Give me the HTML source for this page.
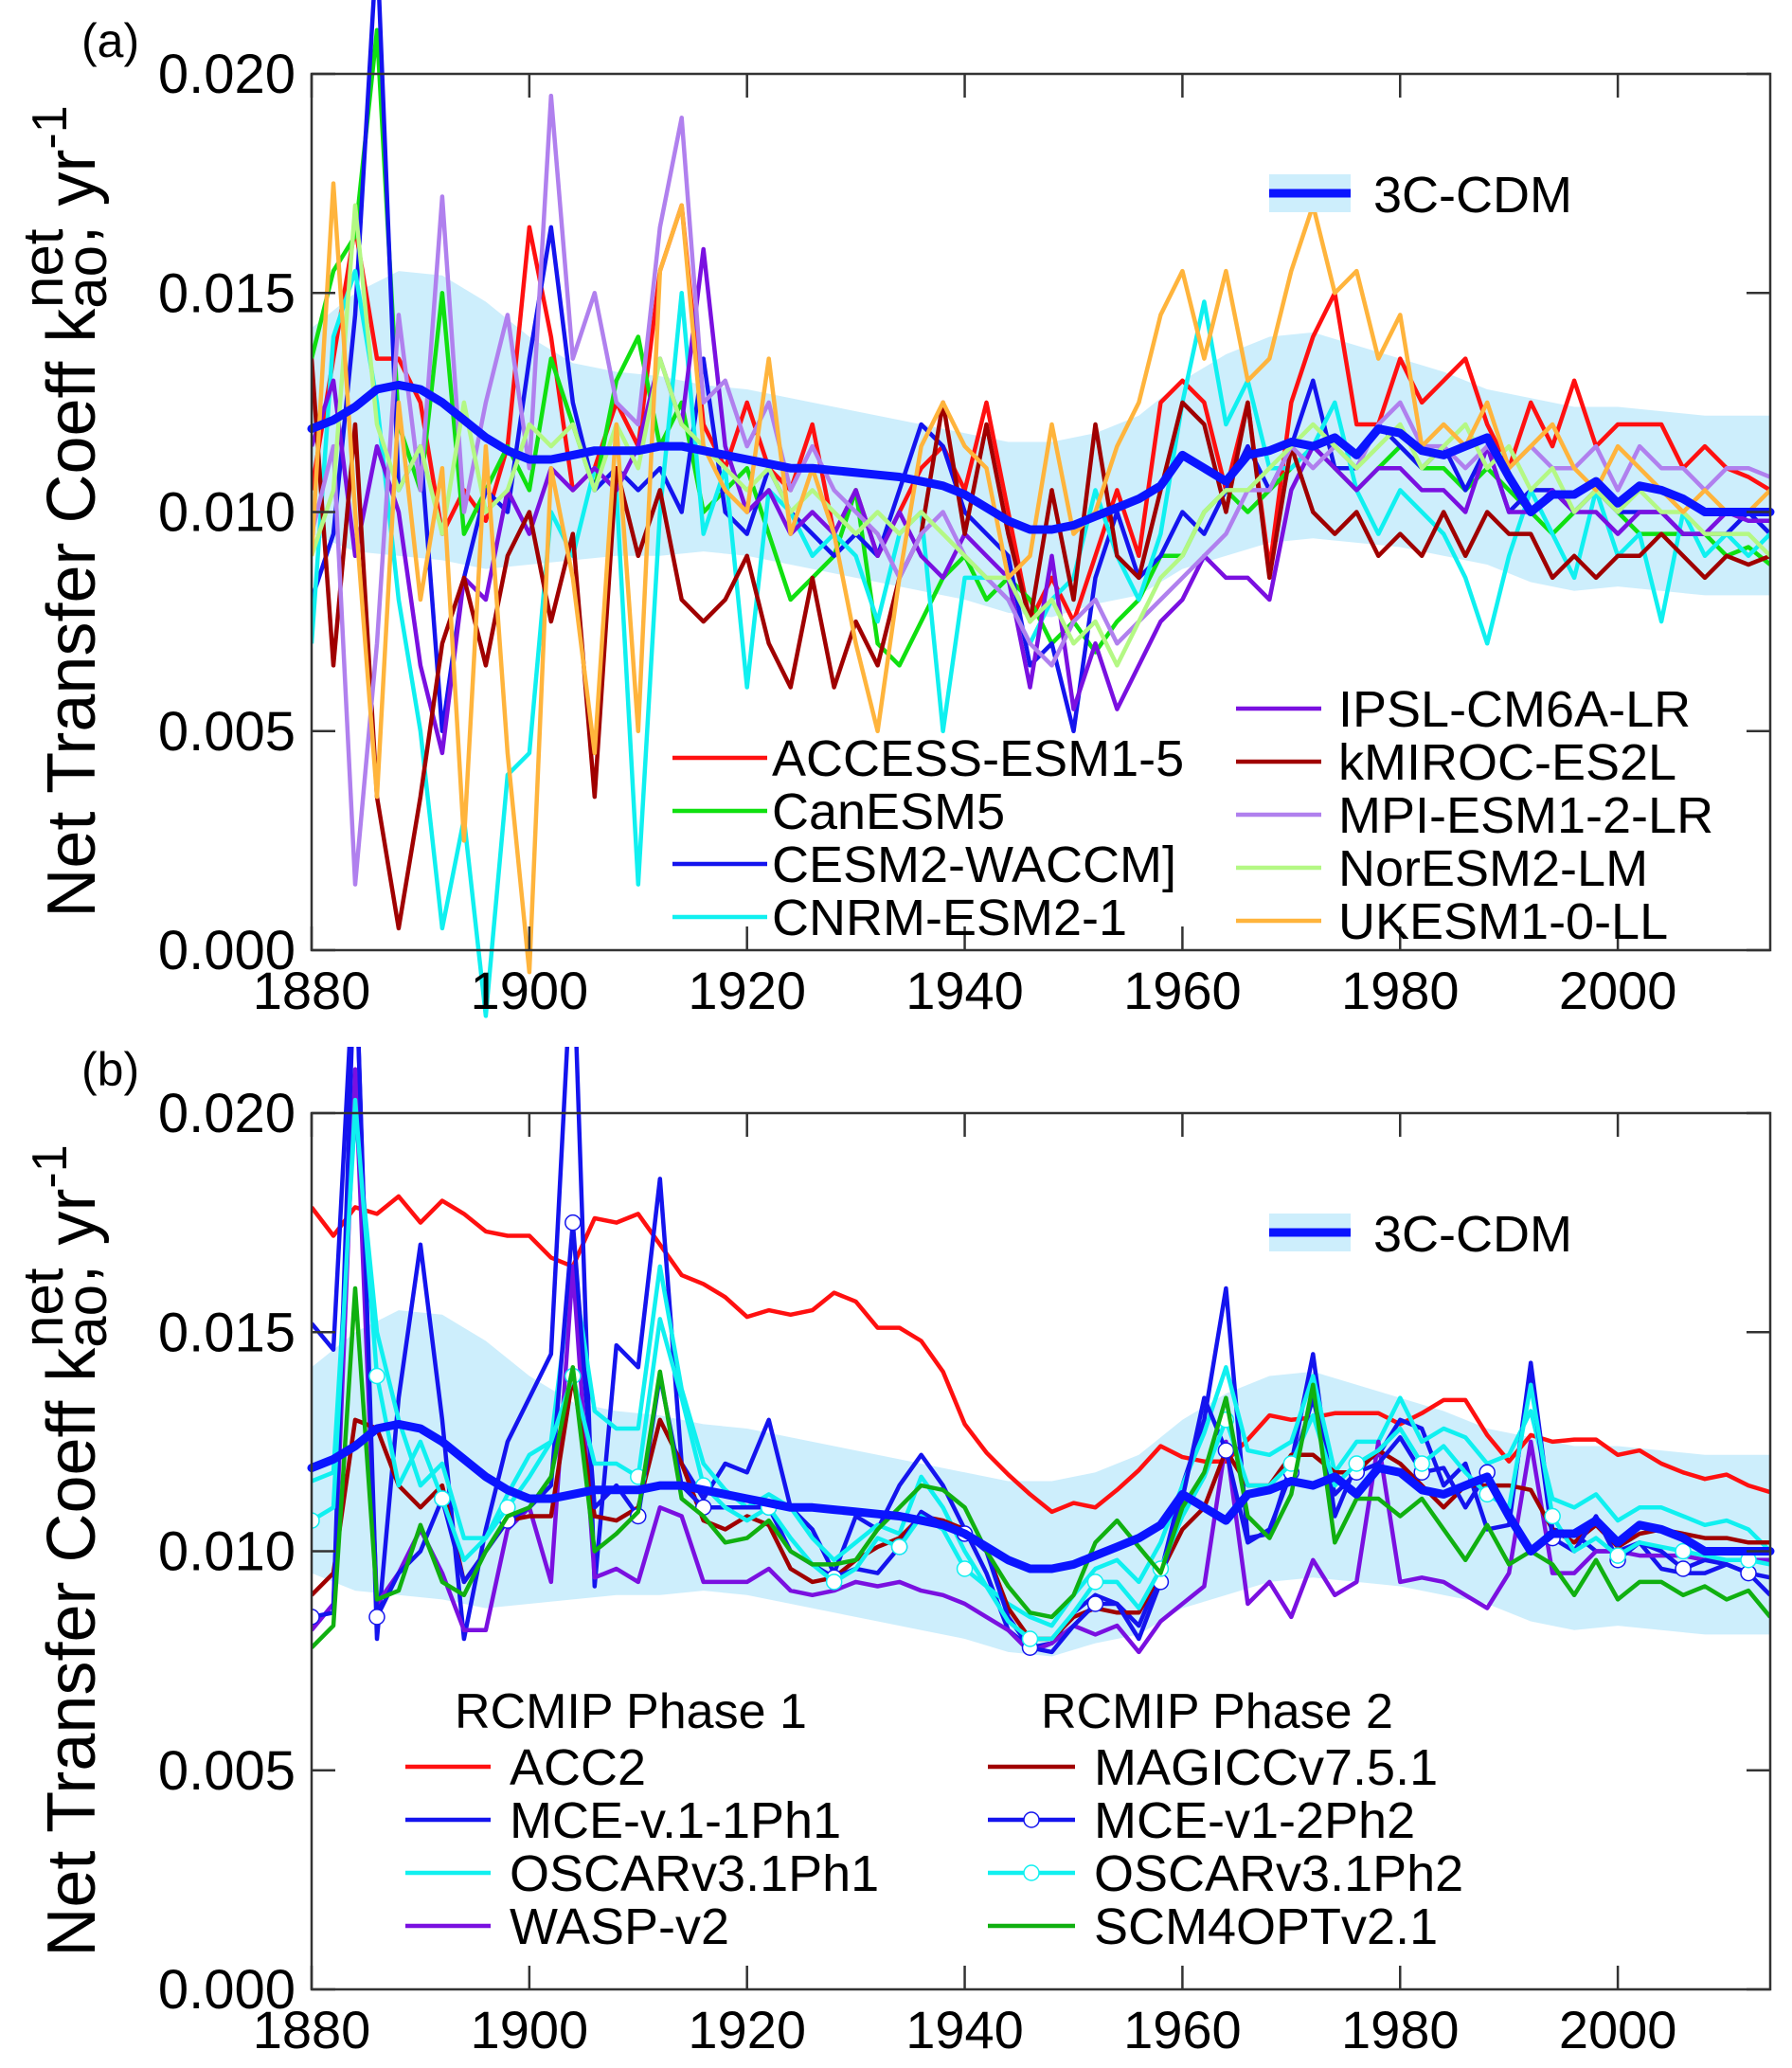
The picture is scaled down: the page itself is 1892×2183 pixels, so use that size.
<!DOCTYPE html>
<html><head><meta charset="utf-8"><style>
html,body{margin:0;padding:0;background:#fff}
svg{display:block}
text{font-family:"Liberation Sans",Arial,sans-serif;fill:#000}
</style></head><body>
<svg id="chart" width="1892" height="2183" viewBox="0 0 1892 2183" xmlns="http://www.w3.org/2000/svg">
<defs>
<clipPath id="clipA"><rect x="329" y="0" width="1540" height="1120"/></clipPath>
<clipPath id="clipB"><rect x="329" y="1105" width="1540" height="995"/></clipPath>
</defs>
<g id="panelA"></g>
<g id="panelB"></g>
</svg>
<script>
// values in units of 1e-3 yr^-1, yearly step of 2 from 1880 unless noted
const startYear = 1880;
const step = 2;
const bandStep = 4;
const xTicks = [1880, 1900, 1920, 1940, 1960, 1980, 2000];
const yTicks = [0, 5, 10, 15, 20];
const yTickLabels = ["0.000", "0.005", "0.010", "0.015", "0.020"];

const cdmMean = [11.9,12.1,12.4,12.8,12.9,12.8,12.5,12.1,11.7,11.4,
 11.2,11.2,11.3,11.4,11.4,11.4,11.5,11.5,11.4,11.3,
 11.2,11.1,11.0,11.0,10.95,10.9,10.85,10.8,10.7,10.6,
 10.4,10.1,9.8,9.6,9.6,9.7,9.9,10.1,10.3,10.6,
 11.3,11.0,10.7,11.3,11.4,11.6,11.5,11.7,11.3,11.9,
 11.8,11.4,11.3,11.5,11.7,10.8,10.0,10.4,10.4,10.7,
 10.2,10.6,10.5,10.3,10.0,10.0,10.0,10.0];
const cdmUpper = [14.2,15.0,15.5,15.4,14.8,14.0,13.4,13.2,13.1,12.9,12.8,12.6,12.4,12.2,12.0,11.8,11.6,11.6,11.8,12.2,13.0,13.6,14.0,14.1,13.8,13.5,13.2,12.8,12.6,12.4,12.4,12.3,12.2,12.2];
const cdmLower = [9.5,9.1,9.0,8.9,8.7,8.8,8.9,9.0,9.0,9.1,9.0,8.8,8.6,8.4,8.2,8.0,7.7,7.6,7.9,8.1,8.7,9.0,9.3,9.4,9.3,9.2,9.0,8.8,8.4,8.2,8.3,8.2,8.1,8.1];

const accessEsm = [10.5,13.5,16.5,13.5,13.5,12.5,9.5,10.5,9.8,11.5,16.5,14.0,10.5,11.0,12.5,11.5,15.5,17.0,12.0,11.0,12.5,11.0,10.5,12.0,9.5,10.5,9.0,10.0,11.0,11.5,10.5,12.5,10.0,7.5,8.5,7.5,9.0,10.5,9.0,12.5,13.0,12.5,10.5,12.5,8.7,12.5,14.0,15.0,12.0,12.0,13.5,12.5,13.0,13.5,12.0,11.0,12.5,11.5,13.0,11.5,12.0,12.0,12.0,11.0,11.5,11.0,10.8,10.5];
const canEsm = [13.5,15.5,16.3,21,12.0,10.5,15.0,9.5,10.5,11.5,10.5,13.5,12.0,10.5,13.0,14.0,11.5,12.5,10.0,10.5,11.0,9.5,8.0,8.5,9.0,10.5,7.0,6.5,7.5,8.5,9.0,8.0,8.5,8.0,7.0,7.5,6.8,7.5,8.0,9.0,9.0,10.0,10.5,10.0,10.5,11.0,11.5,11.0,10.5,11.0,11.5,11.0,11.0,10.5,11.0,10.5,10.0,9.5,10.0,10.5,10.0,9.5,9.5,9.5,9.5,9.0,9.2,8.8];
const cesm2 = [8.0,9.5,14.5,23,10.5,11.5,5.0,8.5,10.5,10.0,13.5,16.5,12.5,10.5,11.0,10.5,11.0,10.0,13.5,10.0,9.5,11.0,10.0,9.5,9.0,9.5,9.0,10.5,12.0,11.5,10.0,9.5,9.0,6.5,7.0,5.0,8.5,10.0,8.5,9.0,10.0,9.5,10.5,11.5,10.5,11.5,13.0,11.0,11.0,12.0,11.5,11.0,11.5,10.5,11.5,10.0,10.5,10.5,10.0,10.5,10.0,10.0,10.0,9.5,9.5,9.5,10.0,9.5];
const cnrm = [7.0,14.0,15.5,12.5,8.0,5.0,0.5,3.0,-1.5,4.0,4.5,10.0,9.0,11.0,10.5,1.5,10.0,15.0,9.5,11.0,6.0,10.5,10.0,9.0,9.5,9.0,7.5,9.5,10.0,5.0,8.5,8.5,8.0,7.0,8.0,8.5,10.5,9.0,8.0,9.5,12.5,14.8,12.0,13.0,11.0,11.0,11.5,12.5,10.5,9.5,10.5,10.0,9.5,8.5,7.0,9.0,10.5,9.5,8.5,10.5,9.0,9.5,7.5,10.0,9.0,9.5,9.0,9.5];
const ipsl = [11.5,13.0,9.0,11.5,10.0,6.5,4.5,8.5,8.0,10.5,9.5,11.0,10.5,11.0,10.5,11.5,13.5,12.0,16.0,11.5,10.0,10.5,9.5,10.0,9.5,10.5,9.0,10.0,9.0,8.5,9.5,9.0,8.5,6.0,9.0,5.5,7.0,5.5,6.5,7.5,8.0,9.0,8.5,8.5,8.0,10.5,11.5,11.0,10.5,11.0,11.0,10.5,10.5,10.0,11.5,10.0,10.0,10.5,10.0,10.0,9.5,10.0,10.0,9.5,9.5,10.0,9.8,9.8];
const miroc = [13.5,6.5,12.0,3.5,0.5,3.5,7.0,8.5,6.5,9.0,10.0,7.5,9.5,3.5,11.0,9.0,10.5,8.0,7.5,8.0,9.0,7.0,6.0,8.5,6.0,7.5,6.5,8.5,9.5,12.5,9.5,12.0,9.5,7.5,10.5,8.0,12.0,9.0,8.5,10.5,12.5,12.0,10.0,12.5,8.5,11.5,10.0,9.5,10.0,9.0,9.5,9.0,10.0,9.0,10.0,9.5,9.5,8.5,9.0,8.5,9.0,9.0,9.5,9.0,8.5,9.0,8.8,9.0];
const mpi = [9.5,11.5,1.5,7.0,14.5,10.5,17.2,10.0,12.5,14.5,11.0,19.5,13.5,15.0,12.5,12.0,16.5,19.0,12.5,13.0,11.5,12.5,10.5,11.5,10.5,10.0,9.5,8.5,9.5,10.0,9.0,8.5,8.0,7.0,6.5,7.5,8.0,7.0,7.5,8.0,8.5,9.0,9.5,10.5,10.5,11.5,11.0,11.5,11.0,12.0,12.5,11.5,11.5,11.0,11.5,11.0,11.5,11.0,11.0,11.5,10.5,11.5,11.0,11.0,10.5,11.0,11.0,10.8];
const norEsm = [9.0,10.5,17.0,12.0,10.5,11.5,9.5,12.5,10.0,10.5,12.0,11.5,12.0,10.5,12.0,11.0,13.5,12.0,11.5,11.0,10.5,11.0,10.0,10.5,10.0,9.5,10.0,9.5,10.0,9.5,9.0,8.5,8.5,7.5,8.0,7.0,7.5,6.5,7.5,8.5,9.0,10.0,10.5,10.5,11.0,11.5,12.0,11.5,11.0,11.5,12.0,11.0,11.5,12.0,11.0,11.5,10.5,11.0,10.0,10.5,10.0,10.5,10.0,10.0,9.5,9.5,9.5,9.0];
const ukEsm = [9.0,17.5,10.0,3.5,12.5,8.0,11.0,2.5,11.5,4.5,-0.5,11.0,8.5,4.5,12.0,5.0,15.5,17.0,11.5,10.5,10.0,13.5,9.5,11.0,9.5,7.0,5.0,8.5,11.5,12.5,11.5,11.0,8.5,9.0,12.0,9.5,10.0,11.5,12.5,14.5,15.5,13.5,15.5,13.0,13.5,15.5,17.0,15.0,15.5,13.5,14.5,11.5,12.0,11.5,12.5,11.0,11.5,12.0,11.0,10.5,11.5,11.0,10.5,10.0,10.5,10.0,10.0,10.5];

const acc2 = [17.85,17.2,17.85,17.7,18.1,17.5,18.0,17.7,17.3,17.2,17.2,16.7,16.5,17.6,17.5,17.7,17.0,16.3,16.1,15.8,15.35,15.5,15.4,15.5,15.9,15.7,15.1,15.1,14.8,14.1,12.9,12.25,11.75,11.3,10.9,11.1,11.0,11.4,11.85,12.4,12.15,12.05,12.05,12.55,13.1,13.0,13.05,13.15,13.15,13.15,12.9,13.15,13.45,13.45,12.65,12.05,12.65,12.5,12.55,12.55,12.2,12.3,12.0,11.8,11.65,11.75,11.5,11.35];
const mceV11 = [15.2,14.6,24,8.0,13.5,17.0,13.0,8.0,10.5,12.5,13.5,14.5,24,9.2,14.7,14.2,18.5,12.0,11.2,12.0,11.8,13.0,11.0,10.5,9.5,10.8,10.5,11.5,12.2,11.5,10.5,9.5,8.2,7.8,7.9,8.6,9.0,8.8,8.3,9.5,11.5,13.0,16.0,10.3,10.4,12.0,14.5,10.8,12.0,12.2,13.0,12.8,11.5,12.0,10.5,10.6,14.3,10.5,10.4,10.0,10.0,10.2,9.6,9.5,9.5,9.7,9.5,9.0];
const oscarPh1 = [11.6,11.8,20.0,15.0,13.0,11.5,12.0,10.3,10.3,11.3,12.2,12.5,16.5,13.2,12.8,12.8,16.5,13.7,12.0,11.4,11.0,11.3,11.0,10.3,9.8,10.2,10.6,10.4,11.7,11.0,10.0,9.2,8.8,8.5,8.3,9.0,9.6,9.8,9.3,10.2,11.5,12.7,14.2,12.3,12.2,12.5,14.0,11.8,12.5,12.5,13.5,12.5,12.8,12.6,12.0,12.2,13.2,11.2,11.0,11.3,10.7,11.0,11.0,10.8,10.6,10.7,10.5,10.0];
const waspV2 = [8.2,8.8,21,8.8,9.5,10.5,9.5,8.2,8.2,10.5,11.0,9.3,16.5,9.4,9.6,9.3,11.0,10.8,9.3,9.3,9.3,9.6,9.1,9.0,9.1,9.3,9.2,9.3,9.1,9.0,8.8,8.5,8.2,7.7,7.9,8.3,8.1,8.3,7.7,8.4,8.8,9.2,12.5,8.8,9.3,8.5,9.8,9.0,9.3,12.5,9.3,9.4,9.3,9.0,8.7,9.5,12.5,9.5,9.5,10.0,10.0,9.9,9.9,9.9,9.8,9.8,9.8,9.8];
const magicc = [9.0,9.5,13.0,12.8,11.5,11.0,11.5,9.3,10.0,10.7,10.8,10.8,14.0,10.8,10.7,11.0,13.0,12.0,10.7,10.5,10.8,10.6,9.6,9.3,9.4,9.8,10.1,10.3,10.8,10.7,10.5,10.0,8.7,8.0,8.0,8.5,8.7,8.6,8.6,9.5,10.5,11.0,12.3,11.5,11.5,12.2,12.2,11.8,11.8,12.3,12.0,11.5,11.0,11.5,11.5,11.5,11.4,10.5,10.2,10.6,10.1,10.4,10.5,10.4,10.3,10.3,10.2,10.2];
const mceV12 = [8.5,8.6,24,8.5,9.5,10.0,11.2,9.3,10.0,10.7,11.0,11.5,17.5,11.0,11.5,10.8,14.0,11.5,11.0,11.0,11.0,11.0,10.0,9.7,9.4,9.6,9.5,10.1,10.9,10.6,10.4,10.0,8.5,7.8,7.7,8.3,8.8,8.8,8.0,9.3,11.2,13.5,12.3,10.2,10.5,11.8,13.5,11.3,11.8,12.0,12.6,11.8,11.9,11.0,11.8,10.8,14.0,10.3,10.0,10.8,9.8,10.2,10.0,9.6,9.8,9.7,9.5,9.4];
const oscarPh2 = [10.7,11.0,20.3,14.0,11.5,12.5,11.2,9.8,10.3,11.0,11.7,12.5,14.0,12.0,12.0,11.7,15.3,13.5,11.5,11.0,10.7,11.0,10.3,9.7,9.3,9.6,10.3,10.1,10.8,10.5,9.6,9.2,8.4,8.0,8.0,8.6,9.3,9.3,8.7,9.6,10.8,11.7,13.0,11.5,11.5,12.0,13.1,11.5,12.0,12.3,12.8,12.0,12.4,11.8,11.3,11.0,13.8,10.8,10.0,10.3,9.9,10.2,10.1,10.0,9.9,9.8,9.8,9.7];
const scm4opt = [7.8,8.3,16.0,8.9,9.1,10.6,9.3,9.0,10.0,10.8,11.0,11.7,14.2,10.0,10.4,10.9,14.1,11.2,10.8,10.2,10.3,10.7,10.0,9.7,9.7,9.8,10.5,11.0,11.5,11.4,11.0,10.0,9.2,8.6,8.5,9.0,10.2,10.7,10.1,9.5,11.0,11.8,13.5,10.8,10.3,11.3,13.8,10.2,11.2,11.2,10.8,11.2,10.5,9.8,10.6,9.7,10.0,9.7,9.0,9.8,8.9,9.3,9.3,9.0,9.2,8.9,9.1,8.5];

const NS = "http://www.w3.org/2000/svg";
const X0 = 329, X1 = 1869, YR0 = 1880, YR1 = 2014;
function xScale(yr){ return X0 + (yr - YR0) / (YR1 - YR0) * (X1 - X0); }
function mk(tag, attrs, parent){
  const e = document.createElementNS(NS, tag);
  for (const k in attrs) e.setAttribute(k, attrs[k]);
  parent.appendChild(e); return e;
}
function lineD(vals, st, yS){
  return vals.map((v,i)=>(i?'L':'M')+xScale(startYear+i*st).toFixed(1)+','+yS(v).toFixed(1)).join('');
}

function drawPanel(g, top, bottom, clipId, series, legendCols, headers){
  const yS = v => bottom - v / 20 * (bottom - top);
  const up = cdmUpper.map((v,i)=>[xScale(startYear+i*bandStep), yS(v)]);
  const lo = cdmLower.map((v,i)=>[xScale(startYear+i*bandStep), yS(v)]);
  up.push([X1, up[up.length-1][1]]); lo.push([X1, lo[lo.length-1][1]]);
  const bd = 'M'+up.map(p=>p[0].toFixed(1)+','+p[1].toFixed(1)).join('L')+'L'+lo.reverse().map(p=>p[0].toFixed(1)+','+p[1].toFixed(1)).join('L')+'Z';
  const band = mk('path',{d:bd,fill:'#cdeefc',stroke:'none'},g);
  
  
  const sg = mk('g',{'clip-path':'url(#'+clipId+')'},g);
  
  
  series.forEach(s=>{
    const p = mk('path',{d:lineD(s.vals, step, yS),fill:'none',stroke:s.color,'stroke-width':4.5,'stroke-linejoin':'round'},sg);
    
    
    if (s.marker){
      s.vals.forEach((v,i)=>{
        if (i % 3 !== 0 || v > 20.5) return;
        const c = mk('circle',{cx:xScale(startYear+i*step),cy:yS(v),r:8,fill:'#fff',stroke:s.color,'stroke-width':1.5},sg);
        
        
      });
    }
  });
  const mean = mk('path',{d:lineD(cdmMean, step, yS),fill:'none',stroke:'#0a14ff','stroke-width':9,'stroke-linejoin':'round','stroke-linecap':'round'},g);
  
  
  const fr = mk('rect',{x:X0,y:top,width:X1-X0,height:bottom-top,fill:'none',stroke:'#333','stroke-width':2.5},g);
  
  
  xTicks.forEach(t=>{
    const x = xScale(t);
    mk('line',{x1:x,x2:x,y1:top,y2:top+25,stroke:'#333','stroke-width':2.5},g);
    mk('line',{x1:x,x2:x,y1:bottom,y2:bottom-25,stroke:'#333','stroke-width':2.5},g);
    const tl = mk('text',{x:x,y:bottom+62,'font-size':56,'text-anchor':'middle'},g);
    tl.textContent = t;
    
    
  });
  yTicks.forEach((t,i)=>{
    const y = yS(t);
    mk('line',{x1:X0,x2:X0+25,y1:y,y2:y,stroke:'#333','stroke-width':2.5},g);
    mk('line',{x1:X1,x2:X1-25,y1:y,y2:y,stroke:'#333','stroke-width':2.5},g);
    const tl = mk('text',{x:312,y:y+20,'font-size':58,'text-anchor':'end'},g);
    tl.textContent = yTickLabels[i];
    
    
  });
  const lg = mk('g',{},g);
  
  
  mk('rect',{x:1340,y:top+106,width:86,height:40,fill:'#cdeefc'},lg);
  mk('line',{x1:1340,x2:1426,y1:top+126,y2:top+126,stroke:'#0a14ff','stroke-width':9},lg);
  const ct = mk('text',{x:1450,y:top+146,'font-size':54},lg);
  ct.textContent = '3C-CDM';
  legendCols.forEach(col=>{
    col.items.forEach((it,j)=>{
      const y = col.y0 + j*col.dy;
      const eg = mk('g',{},g);
      
      
      mk('line',{x1:col.lx,x2:col.lx+col.lw,y1:y,y2:y,stroke:it.color,'stroke-width':4.5},eg);
      if (it.marker) mk('circle',{cx:col.lx+col.lw/2,cy:y,r:8,fill:'#fff',stroke:it.color,'stroke-width':1.5},eg);
      const tx = mk('text',{x:col.tx,y:y+19,'font-size':54},eg);
      tx.textContent = it.name;
    });
  });
  (headers||[]).forEach(h=>{
    const ht = mk('text',{x:h.x,y:h.y,'font-size':52},g);
    ht.textContent = h.text;
    
    
  });
}

const C = {red:'#ff1010',green:'#10e010',blue:'#1414ee',cyan:'#10f0f0',purple:'#7a10e0',dred:'#a00000',lav:'#b080ee',lgreen:'#b4f884',orange:'#ffb43c',sgreen:'#10b010'};
const seriesA = [
 {id:'access-esm1-5',name:'ACCESS-ESM1-5',vals:accessEsm,color:C.red},
 {id:'canesm5',name:'CanESM5',vals:canEsm,color:C.green},
 {id:'cesm2-waccm',name:'CESM2-WACCM]',vals:cesm2,color:C.blue},
 {id:'cnrm-esm2-1',name:'CNRM-ESM2-1',vals:cnrm,color:C.cyan},
 {id:'ipsl-cm6a-lr',name:'IPSL-CM6A-LR',vals:ipsl,color:C.purple},
 {id:'kmiroc-es2l',name:'kMIROC-ES2L',vals:miroc,color:C.dred},
 {id:'mpi-esm1-2-lr',name:'MPI-ESM1-2-LR',vals:mpi,color:C.lav},
 {id:'noresm2-lm',name:'NorESM2-LM',vals:norEsm,color:C.lgreen},
 {id:'ukesm1-0-ll',name:'UKESM1-0-LL',vals:ukEsm,color:C.orange}
];
const seriesB = [
 {id:'acc2',name:'ACC2',vals:acc2,color:C.red},
 {id:'mce-v1-1ph1',name:'MCE-v.1-1Ph1',vals:mceV11,color:C.blue},
 {id:'oscarv3-1ph1',name:'OSCARv3.1Ph1',vals:oscarPh1,color:C.cyan},
 {id:'wasp-v2',name:'WASP-v2',vals:waspV2,color:C.purple},
 {id:'magiccv7-5-1',name:'MAGICCv7.5.1',vals:magicc,color:C.dred},
 {id:'mce-v1-2ph2',name:'MCE-v1-2Ph2',vals:mceV12,color:C.blue,marker:true},
 {id:'oscarv3-1ph2',name:'OSCARv3.1Ph2',vals:oscarPh2,color:C.cyan,marker:true},
 {id:'scm4optv2-1',name:'SCM4OPTv2.1',vals:scm4opt,color:C.sgreen}
];

const gA = document.getElementById('panelA');
drawPanel(gA, 78, 1003, 'clipA', seriesA, [
  {lx:710,lw:100,tx:815,y0:800,dy:56,items:seriesA.slice(0,4)},
  {lx:1305,lw:90,tx:1413,y0:748,dy:56,items:seriesA.slice(4)}
]);
const gB = document.getElementById('panelB');
drawPanel(gB, 1175, 2100, 'clipB', seriesB, [
  {lx:428,lw:90,tx:538,y0:1865,dy:56,items:seriesB.slice(0,4)},
  {lx:1043,lw:92,tx:1155,y0:1865,dy:56,items:seriesB.slice(4)}
], [{x:480,y:1824,text:'RCMIP Phase 1'},{x:1099,y:1824,text:'RCMIP Phase 2'}]);

const svg = document.getElementById('chart');
[['(a)',86,60],['(b)',86,1146]].forEach(([t,x,y])=>{
  const e = mk('text',{x:x,y:y,'font-size':50},svg);
  e.textContent = t;
  
  
});
[[540],[1637]].forEach(([cy])=>{
  const e = mk('text',{transform:'translate(100,'+cy+') rotate(-90)','font-size':72,'text-anchor':'middle'},svg);
  
  
  e.innerHTML = 'Net Transfer Coeff k<tspan font-size="60" dy="12">ao</tspan><tspan font-size="60" dy="-46" dx="-66">net</tspan><tspan dy="34" dx="-16">, yr</tspan><tspan font-size="52" dy="-30">-1</tspan>';
});
</script>
</body></html>
